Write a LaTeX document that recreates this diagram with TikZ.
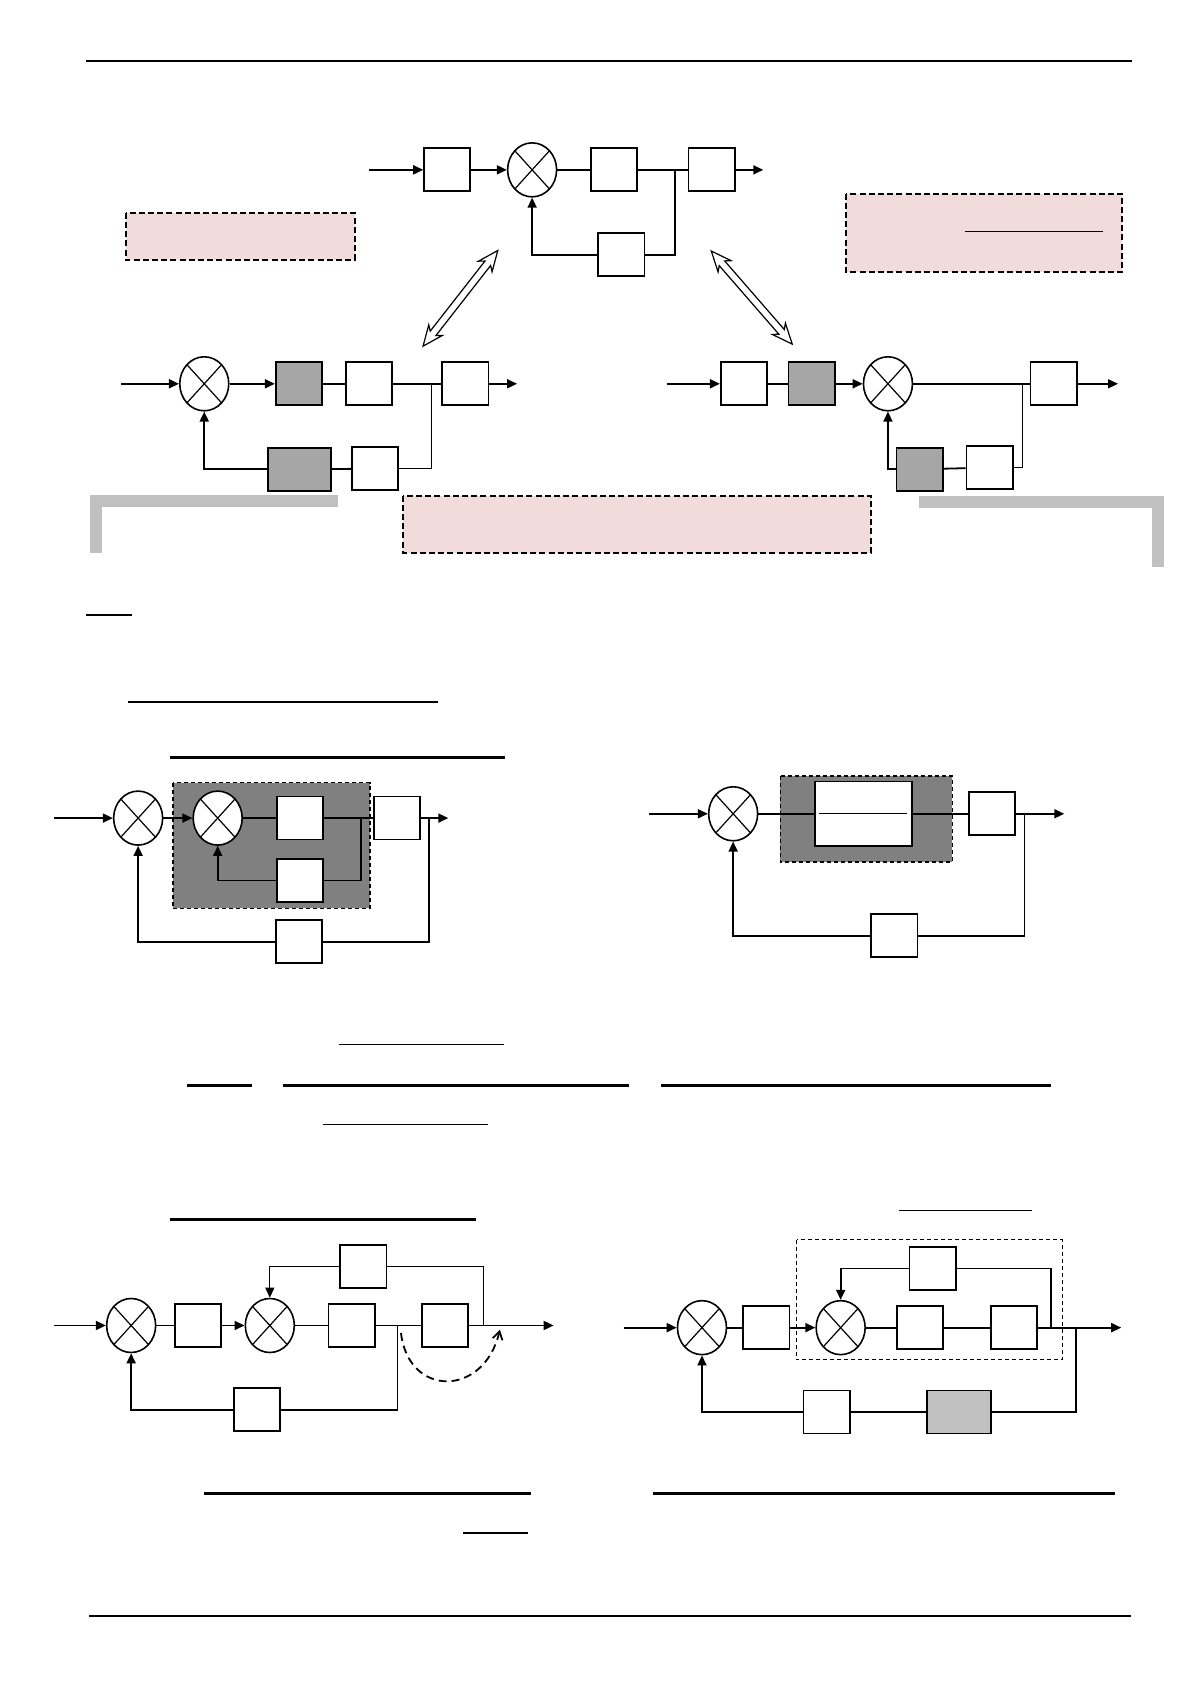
\documentclass[tikz,border=0pt]{standalone}
\usepackage{tikz}
\usetikzlibrary{arrows.meta,shapes.geometric,shapes.arrows}

\definecolor{notepink}{RGB}{242,220,219}
\definecolor{zonegray}{RGB}{128,128,128}
\definecolor{boxgray}{RGB}{166,166,166}
\definecolor{palegray}{RGB}{192,192,192}

\tikzset{
  blk/.style={draw, line width=0.9pt, fill=white, minimum width=23.1pt, minimum height=21.5pt, inner sep=0pt},
  sumj/.style={draw, ellipse, line width=0.8pt, fill=white, minimum width=24.5pt, minimum height=27pt, inner sep=0pt,
    path picture={\draw[line width=0.6pt] (path picture bounding box.north west) -- (path picture bounding box.south east)
      (path picture bounding box.north east) -- (path picture bounding box.south west);}},
  sig/.style={line width=0.9pt},
  thinline/.style={line width=0.55pt},
  arr/.style={line width=0.9pt, -{Triangle[length=5pt,width=4.5pt]}},
  thinarr/.style={line width=0.55pt, -{Triangle[length=5pt,width=4.5pt]}},
  note/.style={draw, fill=notepink, line width=1pt, dash pattern=on 3pt off 1.6pt},
  darkzone/.style={draw, fill=zonegray, line width=0.8pt, dash pattern=on 2pt off 1.5pt},
  uline/.style={line width=1.4pt},
  graybar/.style={draw=palegray, line width=5.9pt},
  dblarr/.style={draw, fill=white, double arrow, line width=0.6pt, inner sep=1.5pt,
    double arrow head extend=2.5pt, double arrow tip angle=46, double arrow head indent=2pt},
}

\begin{document}
\begin{tikzpicture}[x=0.5375pt, y=-0.5375pt]
  \useasboundingbox (0,0) rectangle (1108,1566.5);
  %%%%% START %%%%%

  \draw[line width=1.2pt] (80,57) -- (1053,57);

  % upper loop
  \coordinate (tin) at (343,158);
  \node[blk] (t1) at (416,158) {};
  \node[sumj] (ts) at (495,158) {};
  \node[blk] (t2) at (571,158) {};
  \node[blk] (t3) at (662,158) {};
  \node[blk] (t4) at (578,237) {};
  \coordinate (tbr) at (628,158);
  \coordinate (tout) at (710,158);
  \draw[arr] (tin) -- (t1);
  \draw[arr] (t1) -- (ts);
  \draw[sig] (ts) -- (t2) -- (t3);
  \draw[arr] (t3) -- (tout);
  \draw[sig] (tbr) |- (t4);
  \draw[arr] (t4) -| (ts);

  \draw[note] (117,198) rectangle (330,242);
  \draw[note] (787,180) rectangle (1044,253);
  \draw[thinline] (898,215) -- (1026,215);

  \node[dblarr, minimum height=60.7pt, rotate=52] (dleft) at (428.3,277.5) {};
  \node[dblarr, minimum height=61.7pt, rotate=131] (dright) at (699.3,276.8) {};

  % lower left loop
  \coordinate (lin) at (113,357);
  \node[sumj] (ls) at (190,357) {};
  \node[blk, fill=boxgray] (l1) at (278,357) {};
  \node[blk] (l2) at (343,357) {};
  \node[blk] (l3) at (433,357) {};
  \node[blk] (l4) at (349,436) {};
  \node[blk, fill=boxgray, minimum width=31.7pt] (l5) at (278.5,436.5) {};
  \coordinate (lbr) at (401,357);
  \coordinate (lout) at (481,357);
  \draw[arr] (lin) -- (ls);
  \draw[arr] (ls) -- (l1);
  \draw[sig] (l1) -- (l2) -- (l3);
  \draw[arr] (l3) -- (lout);
  \draw[thinline] (lbr) |- (l4);
  \draw[sig] (l4) -- (l5);
  \draw[arr] (l5) -| (ls);

  % lower right loop
  \coordinate (rin) at (620,357);
  \node[blk] (r1) at (692,357) {};
  \node[blk, fill=boxgray] (r2) at (755,357) {};
  \node[sumj] (rs) at (826,357) {};
  \node[blk] (r3) at (980,357) {};
  \node[blk] (r4) at (920.5,435) {};
  \node[blk, fill=boxgray] (r5) at (855.5,436.5) {};
  \coordinate (rbr) at (951,357);
  \coordinate (rout) at (1040,357);
  \draw[arr] (rin) -- (r1);
  \draw[sig] (r1) -- (r2);
  \draw[arr] (r2) -- (rs);
  \draw[sig] (rs) -- (r3);
  \draw[arr] (r3) -- (rout);
  \draw[thinline] (rbr) |- (r4);
  \draw[sig] (r4) -- (r5);
  \draw[arr] (r5) -| (rs);

  \draw[graybar] (89,514) -- (89,466) -- (314,466);
  \draw[graybar] (855,467) -- (1077,467) -- (1077,527);
  \draw[note] (375,461) rectangle (810,514);

  \draw[uline] (80,572) -- (123,572);
  \draw[uline] (119,653) -- (407,653);
  \draw[uline] (158,705) -- (470,705);

  % nested loop, left
  \draw[darkzone] (161,728) rectangle (344,845);
  \coordinate (ain) at (50,761);
  \node[sumj] (as1) at (128.5,761) {};
  \node[sumj] (as2) at (202.5,761) {};
  \node[blk] (a1) at (279,761) {};
  \node[blk] (a2) at (279,819) {};
  \node[blk] (a3) at (369.5,761) {};
  \node[blk] (a4) at (278,876) {};
  \coordinate (abr1) at (336,761);
  \coordinate (abr2) at (399,761);
  \coordinate (aout) at (417,761);
  \draw[arr] (ain) -- (as1);
  \draw[arr] (as1) -- (as2);
  \draw[sig] (as2) -- (a1) -- (a3);
  \draw[arr] (a3) -- (aout);
  \draw[sig] (abr1) |- (a2);
  \draw[arr] (a2) -| (as2);
  \draw[sig] (abr2) |- (a4);
  \draw[arr] (a4) -| (as1);

  % nested loop, right
  \draw[darkzone] (726,722) rectangle (886,802);
  \coordinate (bin) at (604,757);
  \node[sumj] (bs) at (682,757) {};
  \node[blk, minimum width=48.4pt, minimum height=32.3pt] (b1) at (803,757) {};
  \node[blk] (b2) at (923,757) {};
  \node[blk] (b3) at (832,870.5) {};
  \coordinate (bbr) at (953,757);
  \coordinate (bout) at (990,757);
  \draw[thinline] ([xshift=2.7pt]b1.west) -- ([xshift=-2.7pt]b1.east);
  \draw[arr] (bin) -- (bs);
  \draw[sig] (bs) -- (b1) -- (b2);
  \draw[arr] (b2) -- (bout);
  \draw[sig] (bbr) |- (b3);
  \draw[arr] (b3) -| (bs);

  \draw[thinline] (315,972) -- (469,972);
  \draw[uline] (174,1010) -- (234,1010);
  \draw[uline] (263,1010) -- (585,1010);
  \draw[uline] (615,1010) -- (978,1010);
  \draw[thinline] (300,1046) -- (454,1046);

  \draw[uline] (158,1134.5) -- (443,1134.5);
  \draw[thinline] (836,1126) -- (960,1126);

  % two loops, left
  \coordinate (cin) at (50,1233);
  \node[sumj] (cs1) at (122,1233) {};
  \node[blk] (c1) at (184,1233) {};
  \node[sumj] (cs2) at (251,1233) {};
  \node[blk] (c2) at (327,1233) {};
  \node[blk] (c3) at (414,1233) {};
  \node[blk] (c4) at (338,1178) {};
  \node[blk] (c5) at (239,1311.5) {};
  \coordinate (cbr1) at (370,1233);
  \coordinate (cbr2) at (450,1233);
  \coordinate (cout) at (515,1233);
  \draw[arr] (cin) -- (cs1);
  \draw[sig] (cs1) -- (c1);
  \draw[arr] (c1) -- (cs2);
  \draw[sig] (cs2) -- (c2) -- (c3);
  \draw[arr] (c3) -- (cout);
  \draw[thinline] (cbr2) |- (c4);
  \draw[thinarr] (c4) -| (cs2);
  \draw[thinline] (cbr1) -- (cbr1 |- c5);
  \draw[sig] (cbr1 |- c5) -- (c5);
  \draw[arr] (c5) -| (cs1);
  \coordinate (mvfrom) at (373,1240);
  \coordinate (mvto) at (465,1237);
  \draw[line width=0.9pt, dash pattern=on 4pt off 2.5pt, -{Straight Barb[length=4pt,width=5pt]}]
    (mvfrom) .. controls (380,1300) and (450,1300) .. (mvto);

  % two loops, right
  \draw[thinline, dash pattern=on 2pt off 1.5pt] (741,1153) rectangle (988,1265);
  \coordinate (din) at (580,1235);
  \node[sumj] (ds1) at (653,1235) {};
  \node[blk] (d1) at (713,1235) {};
  \node[sumj] (ds2) at (782,1235) {};
  \node[blk] (d2) at (856,1235) {};
  \node[blk] (d3) at (943,1235) {};
  \node[blk] (d4) at (867.5,1180) {};
  \node[blk] (d5) at (769,1313.5) {};
  \node[blk, fill=palegray, minimum width=32.3pt] (d6) at (892,1313.5) {};
  \coordinate (dbr1) at (978,1235);
  \coordinate (dbr2) at (1001,1235);
  \coordinate (dout) at (1043,1235);
  \draw[arr] (din) -- (ds1);
  \draw[sig] (ds1) -- (d1);
  \draw[arr] (d1) -- (ds2);
  \draw[sig] (ds2) -- (d2) -- (d3);
  \draw[arr] (d3) -- (dout);
  \draw[sig] (dbr1) |- (d4);
  \draw[arr] (d4) -| (ds2);
  \draw[sig] (dbr2) |- (d6);
  \draw[sig] (d6) -- (d5);
  \draw[arr] (d5) -| (ds1);

  \draw[uline] (190,1389) -- (494,1389);
  \draw[uline] (607,1389) -- (1037,1389);
  \draw[thinline] (431,1426) -- (491,1426);

  \draw[line width=1.2pt] (83,1503) -- (1052,1503);

  %%%%% END %%%%%
\end{tikzpicture}
\end{document}
